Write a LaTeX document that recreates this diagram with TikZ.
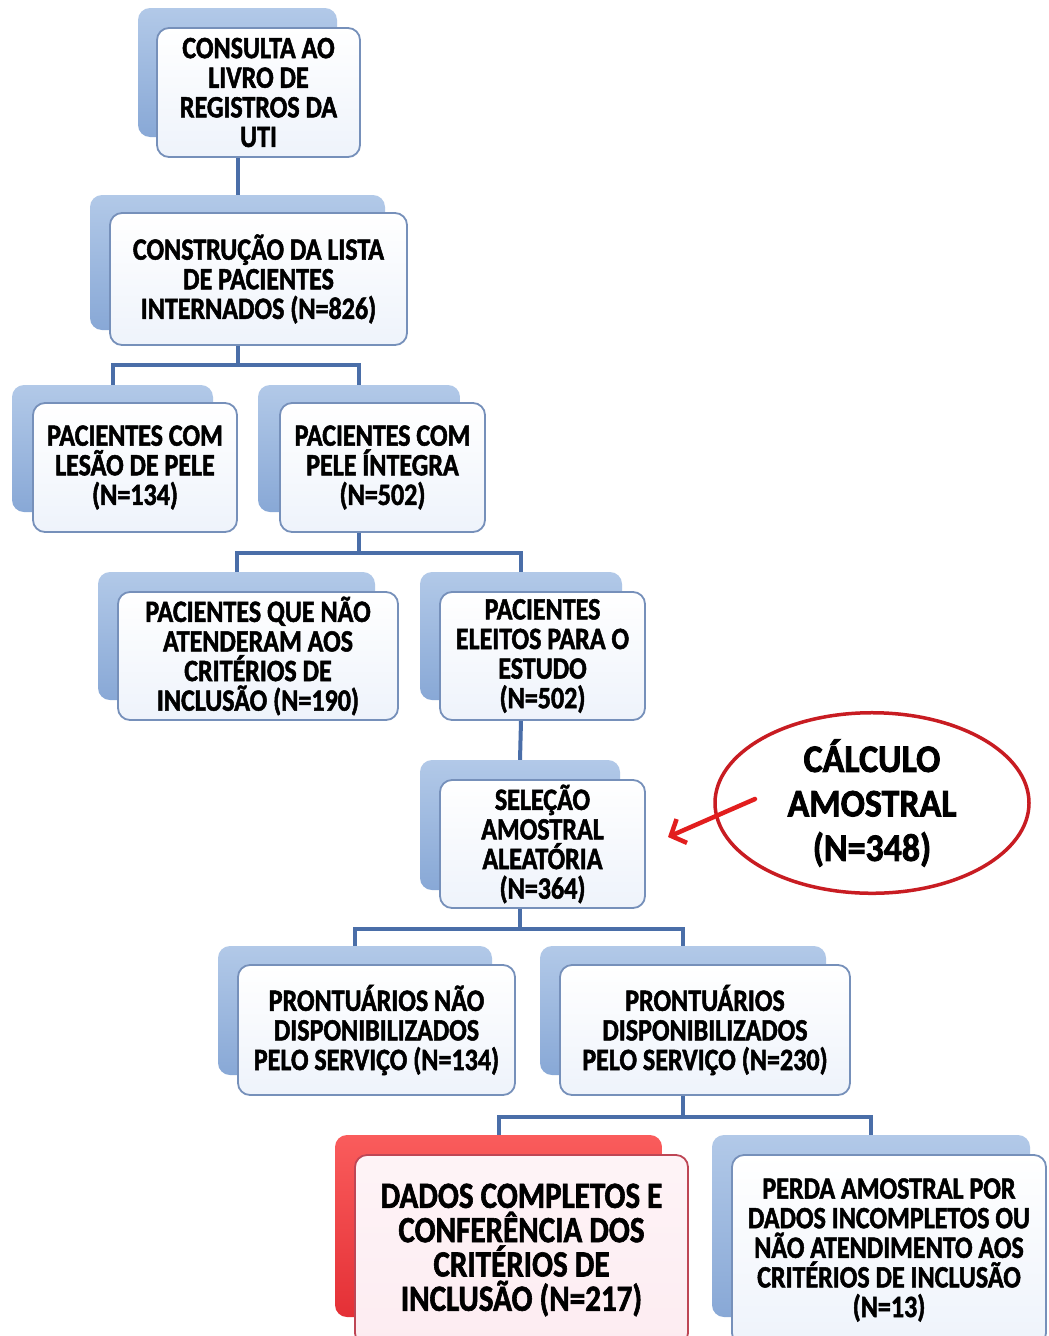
\documentclass[tikz,border=0pt]{standalone}
\usepackage{fontspec}
\setmainfont{Carlito Bold}[FakeStretch=0.84, FakeBold=1.6]
\newfontfamily\ellfont{Carlito Bold}[FakeStretch=0.92, FakeBold=2]
\usetikzlibrary{shapes.geometric,arrows.meta}
\definecolor{connblue}{RGB}{74,110,168}
\definecolor{shtop}{RGB}{178,201,232}
\definecolor{shbot}{RGB}{136,168,214}
\definecolor{frontborder}{RGB}{118,144,186}
\definecolor{fronttint}{RGB}{238,243,251}
\definecolor{redtop}{RGB}{250,92,92}
\definecolor{redbot}{RGB}{228,48,54}
\definecolor{redborder}{RGB}{190,70,85}
\definecolor{redfill}{RGB}{253,236,241}
\definecolor{ellred}{RGB}{200,28,34}
\definecolor{arrred}{RGB}{226,30,30}
\tikzset{
  backbox/.style={rounded corners=12pt, inner sep=0pt, top color=shtop, bottom color=shbot, draw=none},
  redback/.style={rounded corners=12pt, inner sep=0pt, top color=redtop, bottom color=redbot, draw=none},
  frontbox/.style={rounded corners=12pt, inner sep=0pt, draw=frontborder, line width=1.8pt,
    top color=white, bottom color=fronttint, align=center,
    font=\fontsize{31}{29.6}\selectfont},
  redfront/.style={rounded corners=12pt, inner sep=0pt, draw=redborder, line width=1.8pt,
    top color=redfill!60!white, bottom color=redfill, align=center,
    font=\fontsize{37}{34.3}\selectfont},
  conn/.style={draw=connblue, line width=4pt},
}
\newcommand{\twobox}[9]{%
  % #1 name, #2 sx1, #3 sx2, #4 sy1, #5 sy2, #6 fx1, #7 fx2, #8 fy1, #9 fy2
  \node[backbox, minimum width=#3pt-#2pt, minimum height=#5pt-#4pt] (s#1) at ({(#2+#3)/2},{(#4+#5)/2}) {};
  \node[frontbox, minimum width=#7pt-#6pt, minimum height=#9pt-#8pt] (f#1) at ({(#6+#7)/2},{(#8+#9)/2})}
\begin{document}
\begin{tikzpicture}[x=1pt,y=-1pt]
\useasboundingbox (0,0) rectangle (1049,1336);
\clip (0,0) rectangle (1049,1336);
\fill[white] (0,0) rectangle (1049,1336);

% shadow boxes and front boxes
\twobox{1}{138}{337}{8}{137}{157}{360}{28}{157}{CONSULTA AO\\LIVRO DE\\REGISTROS DA\\UTI};
\twobox{2}{90}{385}{195}{330}{110}{407}{213}{345}{CONSTRUÇÃO DA LISTA\\DE PACIENTES\\INTERNADOS (N=826)};
\twobox{3}{12}{213}{385}{512}{33}{237}{403}{532}{PACIENTES COM\\LESÃO DE PELE\\(N=134)};
\twobox{4}{258}{460}{385}{512}{280}{485}{403}{532}{PACIENTES COM\\PELE ÍNTEGRA\\(N=502)};
\twobox{5}{98}{375}{572}{700}{118}{398}{592}{720}{PACIENTES QUE NÃO\\ATENDERAM AOS\\CRITÉRIOS DE\\INCLUSÃO (N=190)};
\twobox{6}{420}{622}{572}{700}{440}{645}{592}{720}{PACIENTES\\ELEITOS PARA O\\ESTUDO\\(N=502)};
\twobox{7}{420}{620}{760}{890}{440}{645}{780}{908}{SELEÇÃO\\AMOSTRAL\\ALEATÓRIA\\(N=364)};
\twobox{8}{218}{492}{946}{1075}{238}{515}{965}{1095}{PRONTUÁRIOS NÃO\\DISPONIBILIZADOS\\PELO SERVIÇO (N=134)};
\twobox{9}{540}{826}{946}{1075}{560}{850}{965}{1095}{PRONTUÁRIOS\\DISPONIBILIZADOS\\PELO SERVIÇO (N=230)};
\node[redback, minimum width=327pt, minimum height=182pt] (s10) at (498.5,1226) {};
\node[redfront, minimum width=333pt, minimum height=190pt] (f10) at (521.5,1250) {DADOS COMPLETOS E\\CONFERÊNCIA DOS\\CRITÉRIOS DE\\INCLUSÃO (N=217)};
\twobox{11}{712}{1030}{1135}{1317}{732}{1046}{1155}{1345}{PERDA AMOSTRAL POR\\DADOS INCOMPLETOS OU\\NÃO ATENDIMENTO AOS\\CRITÉRIOS DE INCLUSÃO\\(N=13)};

% connectors
\draw[conn] (s1.center |- f1.south) -- (s2.north);
\draw[conn] (s2.center |- f2.south) -- ++(0,19) -| (s3.north);
\draw[conn] (s2.center |- f2.south) -- ++(0,19) -| (s4.north);
\draw[conn] (s4.center |- f4.south) -- ++(0,20) -| (s5.north);
\draw[conn] (s4.center |- f4.south) -- ++(0,20) -| (s6.north);
\draw[conn] (s6.center |- f6.south) -- (s7.north);
\draw[conn] (s7.center |- f7.south) -- ++(0,20) -| (s8.north);
\draw[conn] (s7.center |- f7.south) -- ++(0,20) -| (s9.north);
\draw[conn] (s9.center |- f9.south) -- ++(0,21) -| (s10.north);
\draw[conn] (s9.center |- f9.south) -- ++(0,21) -| (s11.north);

% ellipse with sample calculation
\node[ellipse, draw=ellred, line width=3.5pt, minimum width=314pt, minimum height=176pt, inner sep=0pt,
      align=center, font=\ellfont\fontsize{39}{44.5}\selectfont] (ell) at (872,803)
      {CÁLCULO\\AMOSTRAL\\(N=348)};
\coordinate (arrowstart) at (755,799);
\coordinate (arrowtip) at (668,837);
\draw[draw=arrred, line width=4.5pt, line cap=round,
      -{Straight Barb[length=12pt, width=26pt, line width=4.5pt]}] (arrowstart) -- (arrowtip);
\end{tikzpicture}
\end{document}
